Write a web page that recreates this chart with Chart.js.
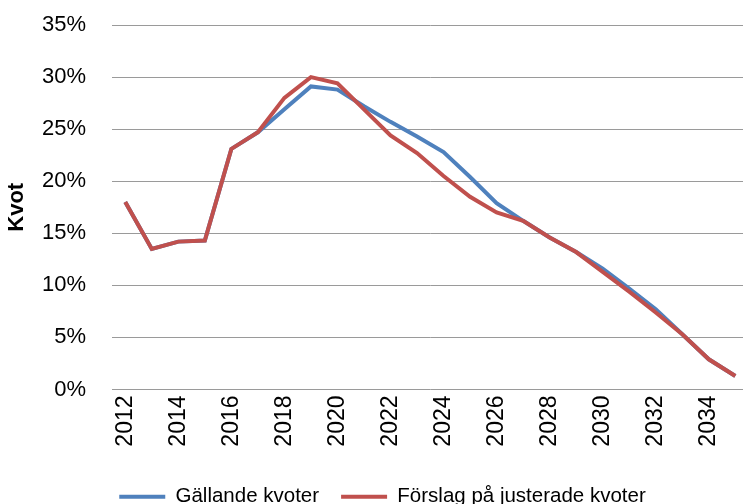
<!DOCTYPE html>
<html>
<head>
<meta charset="utf-8">
<script src="https://cdn.jsdelivr.net/npm/chart.js@4"></script>
<style>
  html, body { margin: 0; padding: 0; overflow: hidden; background: #fff; }
  #wrap { width: 743px; height: 504px; overflow: hidden; }
</style>
</head>
<body>
<div id="wrap"><canvas id="kvotChart" width="769" height="517"></canvas></div>
<script>
const years = ["2012", "2013", "2014", "2015", "2016", "2017", "2018", "2019",
  "2020", "2021", "2022", "2023", "2024", "2025", "2026", "2027", "2028",
  "2029", "2030", "2031", "2032", "2033", "2034", "2035"];

// kvot i procent
const gallande = [18.0, 13.5, 14.2, 14.3, 23.1, 24.7, 26.9, 29.1, 28.8, 27.2,
  25.7, 24.3, 22.8, 20.4, 17.9, 16.2, 14.6, 13.2, 11.6, 9.7, 7.7, 5.3, 2.9, 1.3];
const forslag = [18.0, 13.5, 14.2, 14.3, 23.1, 24.7, 28.0, 30.0, 29.4, 26.9,
  24.4, 22.7, 20.5, 18.5, 17.0, 16.2, 14.6, 13.2, 11.3, 9.4, 7.4, 5.3, 2.9, 1.3];

const yTicks = [0, 5, 10, 15, 20, 25, 30, 35];

const font = "'Liberation Sans', Arial, sans-serif";

const ctx = document.getElementById("kvotChart").getContext("2d");
const kvotChart = new Chart(ctx, {
  type: "line",
  data: {
    labels: years,
    datasets: [
      {
        label: "Gällande kvoter",
        data: gallande,
        borderColor: "#4F81BD",
        backgroundColor: "#4F81BD",
        borderWidth: 4,
        pointRadius: 0,
        tension: 0,
        order: 2,
      },
      {
        label: "Förslag på justerade kvoter",
        data: forslag,
        borderColor: "#C0504D",
        backgroundColor: "#C0504D",
        borderWidth: 4,
        pointRadius: 0,
        tension: 0,
        order: 1,
      },
    ],
  },
  options: {
    responsive: false,
    animation: false,
    devicePixelRatio: 1,
    layout: { padding: { top: 25, right: 4, left: 0, bottom: 0 } },
    plugins: {
      tooltip: { enabled: false },
      legend: {
        position: "bottom",
        labels: {
          font: { family: font, size: 20.5 },
          color: "#000",
          boxWidth: 46,
          boxHeight: 4,
          padding: 22,
          generateLabels: (chart) =>
            chart.data.datasets.map((ds, i) => ({
              text: ds.label,
              fillStyle: ds.borderColor,
              strokeStyle: ds.borderColor,
              lineWidth: 0,
              datasetIndex: i,
            })),
        },
      },
    },
    scales: {
      x: {
        offset: true,
        grid: { display: false, drawTicks: false },
        border: { display: false },
        ticks: {
          autoSkip: false,
          maxRotation: 90,
          minRotation: 90,
          padding: 6,
          color: "#000",
          font: { family: font, size: 23 },
          callback: function (value, index) {
            return index % 2 === 0 ? this.getLabelForValue(value) : "";
          },
        },
        afterFit: (scale) => { scale.height = 75; },
      },
      y: {
        min: 0,
        max: 35,
        afterBuildTicks: (scale) => {
          scale.ticks = yTicks.map((v) => ({ value: v }));
        },
        // osynliga tickmarker ger avståndet mellan etikett och ytan
        grid: { color: "#9a9a9a", lineWidth: 1, drawTicks: true, tickLength: 26, tickColor: "rgba(0,0,0,0)" },
        border: { display: false },
        ticks: {
          padding: 0,
          color: "#000",
          font: { family: font, size: 22 },
          callback: (v) => v + "%",
        },
        title: {
          display: true,
          text: "Kvot",
          color: "#000",
          font: { family: font, size: 22, weight: "bold" },
          padding: { top: 4, bottom: 0 },
        },
        afterFit: (scale) => { scale.width = 112; },
      },
    },
  },
});
</script>
</body>
</html>
